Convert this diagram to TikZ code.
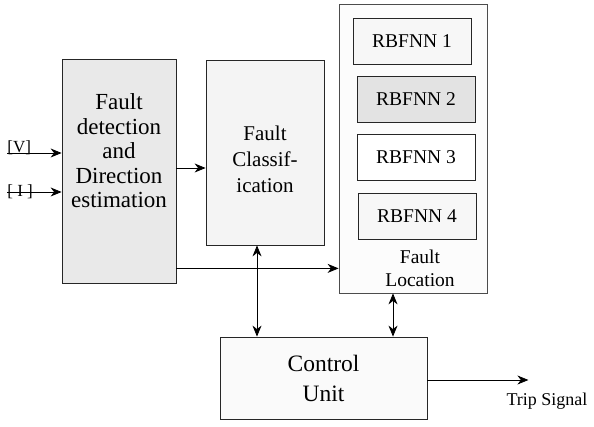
\documentclass[tikz,border=0pt]{standalone}
\usepackage{fontspec}
\setmainfont{Liberation Serif}
\usetikzlibrary{arrows.meta,positioning}
\tikzstyle{block} = [rectangle, draw=black!85, line width=0.8pt, align=center, inner sep=0pt]
\tikzstyle{net} = [block, minimum width=118pt, minimum height=46pt, font=\fontsize{19.5}{22}\selectfont]
\tikzstyle{tag} = [inner sep=0pt, font=\fontsize{17}{20}\selectfont]

\begin{document}
\begin{tikzpicture}[->,>={Stealth[length=11pt,width=9pt,inset=3.5pt]},x=1pt,y=-1pt,line width=0.8pt]
        \useasboundingbox (0,0) rectangle (594,427);

        % detection block, text sits above its middle
        \node[block,fill=gray!17,minimum width=114pt,minimum height=224pt] (Detect) at (119,171) {};
        \node[align=center,inner sep=0pt,font=\fontsize{23}{24.5}\selectfont] (DetectText) [yshift=20pt] at (Detect.center) {Fault\\detection\\and\\Direction\\estimation};

        \node[block,fill=gray!9,minimum width=118pt,minimum height=185pt,font=\fontsize{21}{26}\selectfont] (Classify) at (265,152.5) {\\[3pt]Fault\\Classif-\\ication};

        % location block holding the four networks
        \node[block,draw=black!70,fill=gray!2,minimum width=148pt,minimum height=289pt] (Location) at (413,148.5) {};
        \foreach \i/\x/\y/\c in {1/412/41/gray!6, 2/416/99/gray!22, 3/416/157/white, 4/417/216/gray!6}
        \node[net,fill=\c] (RBFNN\i) at (\x,\y) {RBFNN \i};
        \node[align=center,inner sep=0pt,font=\fontsize{19.5}{23}\selectfont] (LocationText) at (420,268) {Fault\\Location};

        \node[block,fill=gray!4,minimum width=207pt,minimum height=82pt,font=\fontsize{23.5}{30}\selectfont] (Control) at (323.5,378) {Control\\Unit};

        % inputs
        \coordinate (Vin) at (7,153);
        \coordinate (Iin) at (7,192);
        \node[tag,anchor=base west] (Vtag) at (Vin) {[V]};
        \node[tag,anchor=base west] (Itag) at (7,197) {[ I ]};
        \draw (Vin) -- (Vin -| Detect.west);
        \draw (Iin) -- (Iin -| Detect.west);

        \path
            ([yshift=3pt]Detect.east) edge ([yshift=3pt]Detect.east -| Classify.west)
            ([yshift=15pt]Detect.south east) edge ([yshift=15pt]Detect.south east -| Location.west);

        \draw[<->] ([xshift=-8pt]Classify.south) -- ([xshift=-8pt]Classify.south |- Control.north);
        \draw[<->] ([xshift=-20pt]Location.south) -- ([xshift=-20pt]Location.south |- Control.north);

        \draw ([yshift=-2pt]Control.east) -- ++(101,0) coordinate (Trip);
        \node[tag,font=\fontsize{18}{20}\selectfont] (TripText) at (547,401) {Trip Signal};

\end{tikzpicture}
\end{document}
